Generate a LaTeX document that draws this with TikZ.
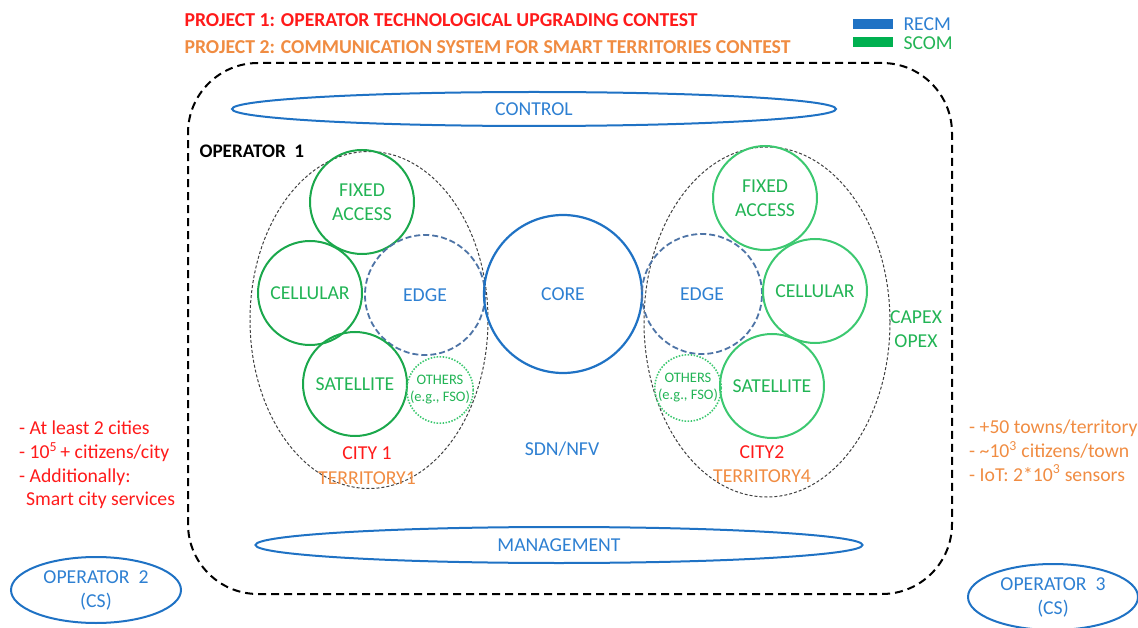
\documentclass[tikz,border=0pt]{standalone}
\usepackage{fontspec}
\setmainfont{Carlito}
\usetikzlibrary{shapes.geometric}

\definecolor{recm}{HTML}{1F72C4}
\definecolor{recmtext}{HTML}{2E80D2}
\definecolor{scom}{HTML}{00B050}
\definecolor{scomdark}{HTML}{1BA84C}
\definecolor{scomlight}{HTML}{3CC870}
\definecolor{scomtext}{HTML}{22B455}
\definecolor{edgeline}{HTML}{4E74A6}
\definecolor{projred}{HTML}{FF1A1A}
\definecolor{projorange}{HTML}{F08C42}

\begin{document}
\begin{tikzpicture}[x=1pt,y=-1pt,
  lab/.style={font=\fontsize{19.7}{23.5}\selectfont},
  small/.style={font=\fontsize{14.5}{17}\selectfont},
  access/.style={circle, draw=scomdark, line width=2pt, minimum size=104pt,
    inner sep=0pt, align=center, text=scomtext, lab},
  accessR/.style={access, draw=scomlight},
  edgecirc/.style={circle, draw=edgeline, dash pattern=on 6pt off 3pt,
    line width=1.8pt, minimum size=120pt, inner sep=0pt, text=recmtext, lab},
  othercirc/.style={circle, draw=scomlight, dash pattern=on 1.5pt off 1.5pt,
    line width=1.6pt, minimum size=64pt, inner sep=0pt, align=center,
    text=scomtext, small},
  cityarea/.style={ellipse, draw=black!75, dash pattern=on 3pt off 2pt,
    line width=1pt, inner sep=0pt},
  layer/.style={ellipse, draw=recm, line width=2pt, inner sep=0pt,
    text=recmtext, lab},
  opext/.style={ellipse, draw=recm, line width=2pt, inner sep=0pt,
    minimum width=170pt, minimum height=66pt, align=center, text=recmtext,
    font=\fontsize{19.7}{24}\selectfont},
  legendbox/.style={minimum width=40pt, minimum height=10pt, inner sep=0pt}
]
\useasboundingbox (0,0) rectangle (1138,628);

% project titles
\node[anchor=west, text=projred, font=\bfseries\fontsize{19.7}{22}\selectfont] (p1) at (181,20)
  {PROJECT 1: OPERATOR\ TECHNOLOGICAL\ UPGRADING\ CONTEST};
\node[anchor=west, text=projorange, font=\bfseries\fontsize{19.7}{22}\selectfont] (p2) at (181,47)
  {PROJECT 2: COMMUNICATION\ SYSTEM\ FOR\ SMART\ TERRITORIES\ CONTEST};

% legend
\node[legendbox, fill=recm] (lgR) at (873,24) {};
\node[legendbox, fill=scom] (lgS) at (873,42) {};
\node[anchor=west, text=recmtext, lab] (lgRt) at (900,24) {RECM};
\node[anchor=west, text=scomtext, lab] (lgSt) at (900,43) {SCOM};

% operator 1 domain
\node[draw=black, line width=2pt, dash pattern=on 8pt off 5pt, rounded corners=70pt,
  minimum width=764pt, minimum height=531pt, inner sep=0pt] (op1) at (570,328.5) {};
\node[anchor=west, font=\bfseries\fontsize{19.2}{22}\selectfont] (op1t) at (196,151) {OPERATOR\ \ 1};

% control and management planes
\node[layer, minimum width=604pt, minimum height=34pt] (ctrl) at (534,109) {CONTROL};
\node[layer, minimum width=607pt, minimum height=36pt] (mgmt) at (559,545) {MANAGEMENT};

% city 1
\node[cityarea, minimum width=238pt, minimum height=337pt] (city1) at (369,320) {};
\node[access] (fa1) at (362,202) {FIXED\\ACCESS};
\node[access] (cel1) at (310,293) {CELLULAR};
\node[edgecirc] (edge1) at (425,295) {EDGE};
\node[access] (sat1) at (355,384) {SATELLITE};
\node[othercirc] (oth1) at (440,390) {OTHERS\\(e.g., FSO)};
\node[text=projred, lab] (c1) at (367,453) {CITY 1};
\node[text=projorange, lab] (t1) at (367,478) {TERRITORY1};

% core
\node[circle, draw=recm, line width=2.2pt, minimum size=158pt, inner sep=0pt,
  text=recmtext, lab] (core) at (563,294) {CORE};
\node[text=recmtext, lab] (sdn) at (562,449) {SDN/NFV};

% city 2
\node[cityarea, minimum width=246pt, minimum height=350pt] (city2) at (767,322) {};
\node[accessR] (fa2) at (765,198) {FIXED\\ACCESS};
\node[edgecirc] (edge2) at (702,294) {EDGE};
\node[accessR] (cel2) at (815,291) {CELLULAR};
\node[accessR] (sat2) at (772,386) {SATELLITE};
\node[othercirc] (oth2) at (688,388) {OTHERS\\(e.g., FSO)};
\node[text=projred, lab] (c2) at (762,452) {CITY2};
\node[text=projorange, lab] (t2) at (762,476) {TERRITORY4};

% cost annotation
\node[text=scomtext, align=center, font=\fontsize{19.7}{24}\selectfont] (cost) at (916,329) {CAPEX\\OPEX};

% requirements
\node[anchor=north west, align=left, text=projred, font=\fontsize{19.7}{23.7}\selectfont,
  inner sep=0pt] (req1) at (19,421)
  {- At least 2 cities\\
   - 10\textsuperscript{5}\,+ citizens/city\\
   - Additionally:\\
   \hspace*{7pt}Smart city services};
\node[anchor=north west, align=left, text=projorange, font=\fontsize{19.7}{23.7}\selectfont,
  inner sep=0pt] (req2) at (969,420)
  {- +50 towns/territory\\
   - \textasciitilde10\textsuperscript{3} citizens/town\\
   - IoT: 2*10\textsuperscript{3} sensors};

% other operators
\node[opext] (op2) at (96,590) {OPERATOR\ \ 2\\(CS)};
\node[opext] (op3) at (1053,597) {OPERATOR\ \ 3\\(CS)};
\end{tikzpicture}
\end{document}
